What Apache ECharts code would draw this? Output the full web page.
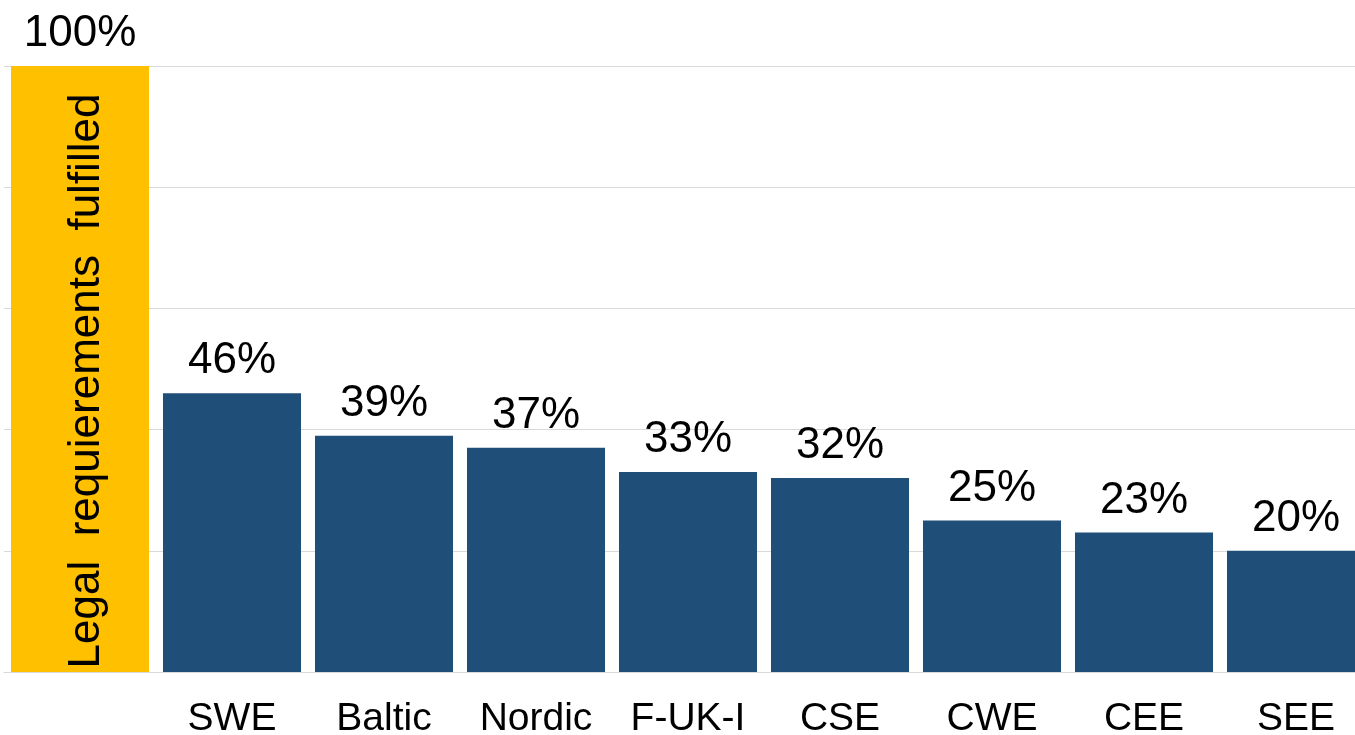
<!DOCTYPE html>
<html>
<head>
<meta charset="utf-8">
<title>Legal requirements fulfilled by region</title>
<script src="https://cdn.jsdelivr.net/npm/echarts@6/dist/echarts.min.js"></script>
<style>
  html, body { margin: 0; padding: 0; background: #fff; overflow: hidden; }
  /* 图表比窗口略宽，最后一根柱子在右边被截掉 */
  #chart { width: 1372px; height: 735px; }
</style>
</head>
<body>
<div id="chart"></div>
<script>
// 数据
var categories = ['', 'SWE', 'Baltic', 'Nordic', 'F-UK-I', 'CSE', 'CWE', 'CEE', 'SEE'];
var shares = [100, 46, 39, 37, 33, 32, 25, 23, 20];
var refText = 'Legal  requierements  fulfilled';

var font = '"Liberation Sans", Arial, sans-serif';
var myChart = echarts.init(document.getElementById('chart'));

var option = {
  animation: false,
  grid: { left: 4, right: 0, top: 66, bottom: 63, containLabel: false, outerBoundsMode: 'none' },
  xAxis: {
    type: 'category',
    data: categories,
    axisTick: { show: false },
    axisLine: { lineStyle: { color: '#d9d9d9', width: 1 } },
    axisLabel: { color: '#000', fontSize: 39, fontFamily: font, margin: 28, interval: 0 }
  },
  yAxis: {
    type: 'value',
    min: 0,
    max: 100,
    interval: 20,
    axisLabel: { show: false },
    axisLine: { show: false },
    axisTick: { show: false },
    splitLine: { lineStyle: { color: '#d9d9d9', width: 1 } }
  },
  series: [
    {
      type: 'bar',
      data: shares.map(function (v, i) {
        return { value: v, itemStyle: { color: i === 0 ? '#FFC000' : '#1F4E79' } };
      }),
      barCategoryGap: '9.2%',
      barGap: '-100%',
      label: {
        show: true,
        position: 'top',
        distance: 10,
        color: '#000',
        fontSize: 44,
        fontFamily: font,
        formatter: '{c}%'
      }
    },
    {
      type: 'bar',
      data: shares.map(function (v, i) { return i === 0 ? v : '-'; }),
      barCategoryGap: '9.2%',
      barGap: '-100%',
      itemStyle: { color: 'rgba(0,0,0,0)' },
      z: 3,
      label: {
        show: true,
        position: 'inside',
        rotate: 90,
        // 偏移量在旋转后的坐标系里
        offset: [-12, 7],
        color: '#000',
        fontSize: 44,
        fontFamily: font,
        formatter: refText
      }
    }
  ]
};
myChart.setOption(option);
</script>
</body>
</html>
